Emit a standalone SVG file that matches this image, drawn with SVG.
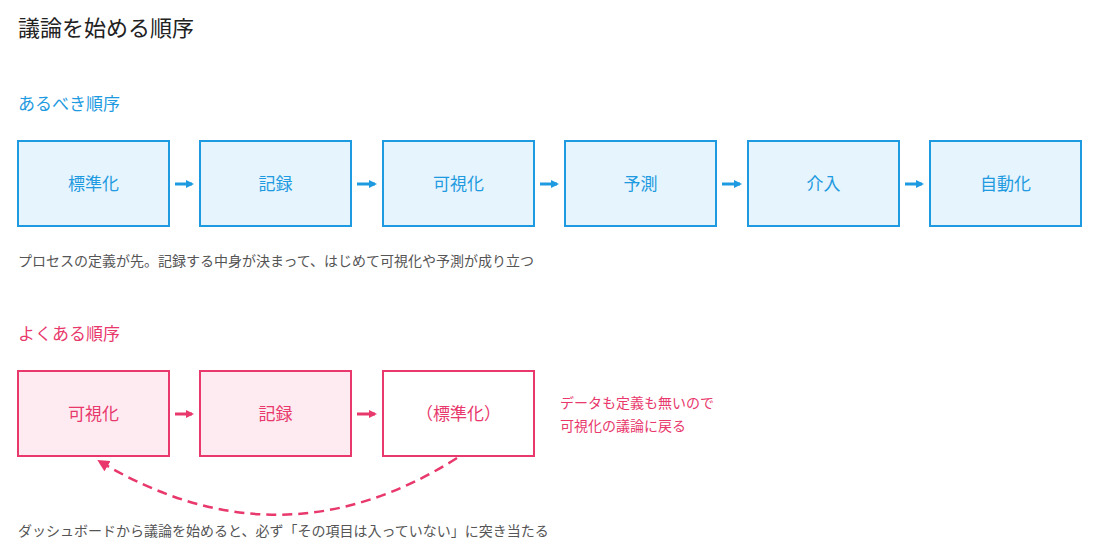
<svg xmlns="http://www.w3.org/2000/svg" width="1100" height="556" viewBox="0 0 1100 556">
<defs>
<style>
text{font-family:"Noto Sans CJK JP",sans-serif}
.b rect{fill:#e6f4fd;stroke:#1e9ae0;stroke-width:2}
.b text{fill:#1e9ae0;font-size:17px;text-anchor:middle}
.p rect{fill:#fdebf1;stroke:#e8386c;stroke-width:2}
.p text{fill:#e8386c;font-size:17px;text-anchor:middle}
.w rect{fill:#fff}
.note{fill:#555;font-size:14px}
</style>
<marker id="ab" markerWidth="8" markerHeight="8" refX="6" refY="4" orient="auto" markerUnits="userSpaceOnUse"><path d="M0,0L8,4L0,8z" fill="#1e9ae0"/></marker>
<marker id="ap" markerWidth="8" markerHeight="8" refX="6" refY="4" orient="auto" markerUnits="userSpaceOnUse"><path d="M0,0L8,4L0,8z" fill="#e8386c"/></marker>
<marker id="ap2" markerWidth="12" markerHeight="12" refX="10" refY="6" orient="auto" markerUnits="userSpaceOnUse"><path d="M0,0L12,6L0,12z" fill="#e8386c"/></marker>
</defs>
<rect width="1100" height="556" fill="#fff"/>
<text x="18" y="36" font-size="22" fill="#222">議論を始める順序</text>
<text x="18" y="110" font-size="17" fill="#1e9ae0">あるべき順序</text>
<g id="n1" class="b"><rect x="18" y="141" width="151" height="85"/><text x="93.5" y="190">標準化</text></g>
<g id="n2" class="b"><rect x="200" y="141" width="151" height="85"/><text x="275.5" y="190">記録</text></g>
<g id="n3" class="b"><rect x="383" y="141" width="151" height="85"/><text x="458.5" y="190">可視化</text></g>
<g id="n4" class="b"><rect x="565" y="141" width="151" height="85"/><text x="640.5" y="190">予測</text></g>
<g id="n5" class="b"><rect x="748" y="141" width="151" height="85"/><text x="823.5" y="190">介入</text></g>
<g id="n6" class="b"><rect x="930" y="141" width="151" height="85"/><text x="1005.5" y="190">自動化</text></g>
<text class="note" x="18" y="266">プロセスの定義が先。記録する中身が決まって、はじめて可視化や予測が成り立つ</text>
<text x="18" y="340" font-size="17" fill="#e8386c">よくある順序</text>
<g id="m1" class="p"><rect x="18" y="371" width="151" height="85"/><text x="93.5" y="420">可視化</text></g>
<g id="m2" class="p"><rect x="200" y="371" width="151" height="85"/><text x="275.5" y="420">記録</text></g>
<g id="m3" class="p w"><rect x="383" y="371" width="151" height="85"/><text x="458.5" y="420">（標準化）</text></g>
<text x="560" y="408" font-size="14" fill="#e8386c">データも定義も無いので</text>
<text x="560" y="431" font-size="14" fill="#e8386c">可視化の議論に戻る</text>
<text class="note" x="18" y="536">ダッシュボードから議論を始めると、必ず「その項目は入っていない」に突き当たる</text>
<g id="connectors" fill="none" stroke-width="3">
<g stroke="#1e9ae0" marker-end="url(#ab)">
<line x1="175" y1="184" x2="192" y2="184"/>
<line x1="357" y1="184" x2="375" y2="184"/>
<line x1="540" y1="184" x2="557" y2="184"/>
<line x1="722" y1="184" x2="740" y2="184"/>
<line x1="905" y1="184" x2="922" y2="184"/>
</g>
<g stroke="#e8386c">
<line x1="175" y1="414" x2="192" y2="414" marker-end="url(#ap)"/>
<line x1="357" y1="414" x2="375" y2="414" marker-end="url(#ap)"/>
<path d="M457,458 Q280,570 99,461" stroke-width="2.5" stroke-dasharray="10,6" marker-end="url(#ap2)"/>
</g>
</g>
</svg>
